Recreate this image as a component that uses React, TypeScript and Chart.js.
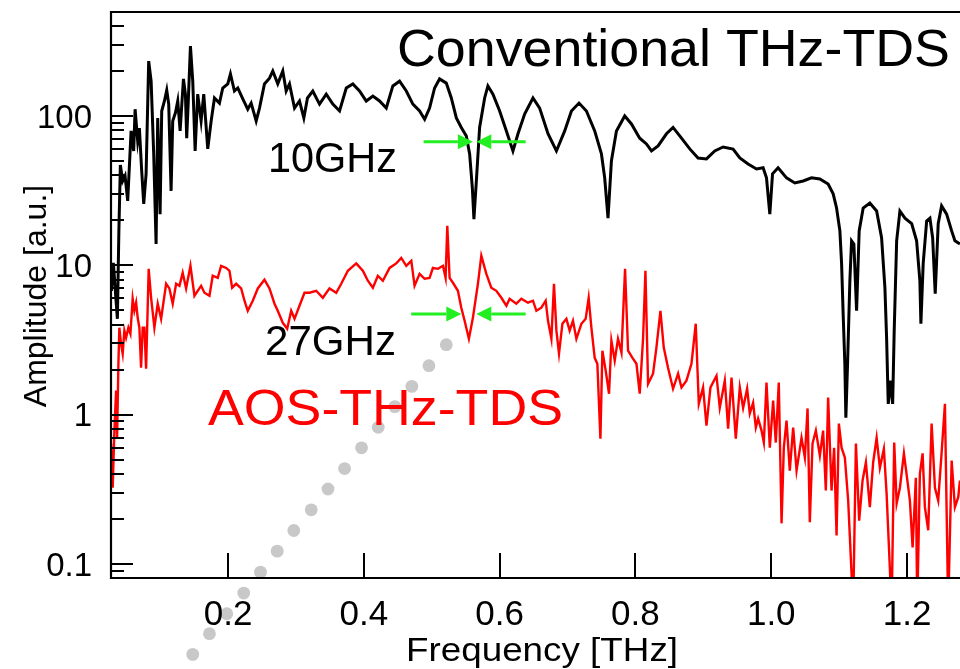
import React, { useEffect, useRef } from 'react';
import { Chart, registerables } from 'chart.js';

Chart.register(...registerables);

// ---------- Data (frequency in THz, amplitude in a.u.) ----------
const convFreq = [
  0.0282, 0.0311, 0.0340, 0.0370, 0.0392, 0.0414, 0.0448, 0.0483, 0.0522, 0.0572,
  0.0610, 0.0631, 0.0669, 0.0694, 0.0728, 0.0758, 0.0793, 0.0831, 0.0867, 0.0905,
  0.0940, 0.0964, 0.0999, 0.1023, 0.1063, 0.1097, 0.1126, 0.1161, 0.1185, 0.1225,
  0.1259, 0.1294, 0.1343, 0.1372, 0.1391, 0.1416, 0.1446, 0.1480, 0.1515, 0.1553,
  0.1603, 0.1642, 0.1701, 0.1751, 0.1800, 0.1873, 0.1922, 0.1996, 0.2035, 0.2094,
  0.2143, 0.2217, 0.2290, 0.2340, 0.2414, 0.2463, 0.2536, 0.2610, 0.2659, 0.2732,
  0.2806, 0.2856, 0.2905, 0.2979, 0.3052, 0.3116, 0.3170, 0.3248, 0.3347, 0.3446,
  0.3543, 0.3642, 0.3741, 0.3838, 0.3936, 0.4035, 0.4133, 0.4231, 0.4330, 0.4427,
  0.4526, 0.4625, 0.4722, 0.4821, 0.4895, 0.4968, 0.5042, 0.5115, 0.5214, 0.5288,
  0.5362, 0.5435, 0.5509, 0.5558, 0.5598, 0.5621, 0.5657, 0.5705, 0.5779, 0.5827,
  0.5901, 0.6000, 0.6099, 0.6196, 0.6270, 0.6368, 0.6491, 0.6589, 0.6712, 0.6836,
  0.6958, 0.7057, 0.7169, 0.7278, 0.7400, 0.7499, 0.7547, 0.7596, 0.7646, 0.7720,
  0.7842, 0.7941, 0.8063, 0.8162, 0.8236, 0.8333, 0.8457, 0.8554, 0.8678, 0.8800,
  0.8922, 0.9046, 0.9168, 0.9291, 0.9438, 0.9537, 0.9659, 0.9783, 0.9880, 0.9930,
  0.9979, 1.0019, 1.0101, 1.0225, 1.0347, 1.0470, 1.0593, 1.0716, 1.0838, 1.0912,
  1.0962, 1.1011, 1.1036, 1.1059, 1.1084, 1.1099, 1.1124, 1.1158, 1.1183, 1.1217,
  1.1257, 1.1295, 1.1354, 1.1452, 1.1552, 1.1625, 1.1674, 1.1699, 1.1723, 1.1758,
  1.1788, 1.1811, 1.1847, 1.1895, 1.1969, 1.2068, 1.2141, 1.2189, 1.2204, 1.2238,
  1.2289, 1.2337, 1.2377, 1.2415, 1.2459, 1.2509, 1.2583, 1.2657, 1.2705, 1.2779,
];
const convAmp = [
  6.75, 10.4, 6.75, 4.38, 17.0, 47.0, 36.7, 39.7, 27.0, 79.4,
  58.3, 111, 68.0, 83, 42.9, 25.8, 41, 233, 171, 55.7,
  13.9, 97, 22.0, 108, 126, 149, 120, 31.5, 92.6, 105,
  126, 79.4, 177, 140, 71, 132, 294, 171, 58.3, 140,
  92.6, 140, 60.2, 92.6, 132, 122, 154, 164, 191, 147,
  154, 130, 111, 122, 92.6, 113, 164, 179, 200, 164,
  200, 147, 164, 113, 126, 97, 132, 147, 120, 140,
  120, 108, 154, 164, 147, 126, 136, 126, 113, 159,
  171, 147, 120, 108, 95, 113, 154, 177, 166, 132,
  97, 83.8, 73.5, 55.7, 32.9, 20.4, 36.7, 83.8, 132, 159,
  140, 108, 79.4, 58.3, 76, 103, 132, 113, 76, 58.3,
  79.4, 108, 122, 108, 79.4, 55.7, 38.5, 20.7, 50, 79.4,
  100, 88.4, 71, 65, 58.3, 63, 76, 83.8, 71, 60.2,
  52.3, 51.6, 58.3, 62, 60, 52.3, 47.7, 44.2, 45, 38.5,
  22.0, 41, 45, 38.5, 35.6, 36.7, 38.5, 37.8, 35, 30.1,
  24.2, 17.0, 10.3, 4.74, 2.19, 0.955, 2.19, 7.88, 14.6, 13.9,
  4.96, 17.0, 24.2, 26.1, 23.1, 15.3, 7.08, 3.27, 1.18, 1.69,
  1.18, 3.65, 14.6, 23.1, 20.7, 19, 14.6, 7.88, 4.06, 10.3,
  19.8, 20.7, 15.3, 6.45, 19, 25, 22, 17, 14.6, 13.9,
];

const aosFreq = [
  0.0277, 0.0301, 0.0326, 0.0351, 0.0366, 0.0385, 0.0399, 0.0424, 0.0448, 0.0473,
  0.0498, 0.0532, 0.0562, 0.0595, 0.0620, 0.0646, 0.0669, 0.0694, 0.0719, 0.0743,
  0.0768, 0.0793, 0.0831, 0.0867, 0.0915, 0.0964, 0.1014, 0.1088, 0.1136, 0.1185,
  0.1235, 0.1284, 0.1332, 0.1382, 0.1446, 0.1505, 0.1553, 0.1603, 0.1652, 0.1726,
  0.1774, 0.1848, 0.1898, 0.1972, 0.2021, 0.2060, 0.2119, 0.2193, 0.2242, 0.2290,
  0.2364, 0.2438, 0.2536, 0.2610, 0.2684, 0.2732, 0.2806, 0.2871, 0.2930, 0.2979,
  0.3052, 0.3126, 0.3200, 0.3298, 0.3396, 0.3494, 0.3593, 0.3667, 0.3764, 0.3888,
  0.3985, 0.4059, 0.4133, 0.4206, 0.4280, 0.4379, 0.4477, 0.4551, 0.4625, 0.4699,
  0.4747, 0.4821, 0.4895, 0.4968, 0.5017, 0.5091, 0.5165, 0.5204, 0.5229, 0.5263,
  0.5312, 0.5385, 0.5435, 0.5484, 0.5547, 0.5606, 0.5680, 0.5730, 0.5804, 0.5877,
  0.5951, 0.6025, 0.6099, 0.6147, 0.6246, 0.6320, 0.6417, 0.6491, 0.6541, 0.6614,
  0.6678, 0.6712, 0.6762, 0.6800, 0.6836, 0.6874, 0.6924, 0.6983, 0.7031, 0.7080,
  0.7130, 0.7204, 0.7267, 0.7311, 0.7351, 0.7400, 0.7439, 0.7484, 0.7513, 0.7562,
  0.7611, 0.7646, 0.7695, 0.7743, 0.7794, 0.7847, 0.7891, 0.7956, 0.8015, 0.8063,
  0.8112, 0.8147, 0.8186, 0.8259, 0.8309, 0.8368, 0.8417, 0.8480, 0.8554, 0.8628,
  0.8678, 0.8751, 0.8825, 0.8888, 0.8933, 0.8996, 0.9046, 0.9105, 0.9194, 0.9242,
  0.9316, 0.9365, 0.9415, 0.9478,
  0.9537, 0.9586, 0.9645, 0.9684, 0.9733, 0.9773, 0.9807, 0.9857, 0.9891, 0.9930,
  0.9979, 1.0028, 1.0067, 1.0111, 1.0152, 1.0185, 1.0225, 1.0273, 1.0323, 1.0373,
  1.0446, 1.0495, 1.0535, 1.0568, 1.0608, 1.0657, 1.0716, 1.0764, 1.0804, 1.0838,
  1.0888, 1.0926, 1.0962, 1.0996, 1.1036, 1.1084, 1.1133, 1.1207, 1.1247, 1.1295,
  1.1345, 1.1394, 1.1452, 1.1501, 1.1552, 1.1600, 1.1659, 1.1699, 1.1773, 1.1811,
  1.1847, 1.1895, 1.1954, 1.1993, 1.2042, 1.2082, 1.2130, 1.2150, 1.2189, 1.2229,
  1.2263, 1.2312, 1.2362, 1.2411, 1.2459, 1.2509, 1.2558, 1.2606, 1.2657, 1.2705,
  1.2754, 1.2779,
];
const aosAmp = [
  0.64, 0.324, 0.782, 1.45, 0.70, 2.19, 3.82, 2.98, 2.56, 3.65,
  3.27, 3.82, 3.48, 5.97, 4.96, 5.62, 4.45, 3.82, 2.06, 3.82,
  3.82, 2.03, 9.47, 6.06, 3.82, 5.53, 4.38, 7.52, 7.0, 5.53,
  7.52, 7.29, 8.9, 7.0, 9.92, 6.25, 6.75, 7.29, 6.55, 6.25,
  8.51, 8.24, 9.92, 9.6, 9.19, 7.08, 7.52, 7.0, 5.79, 4.96,
  5.79, 7.0, 8.0, 7.0, 5.53, 4.96, 4.12, 3.76, 4.96, 4.38,
  5.36, 6.55, 6.55, 6.75, 6.06, 7.0, 6.55, 7.52, 9.19, 10.3,
  9.19, 7.88, 7.08, 8.51, 7.88, 9.6, 10.3, 11.2, 9.92, 10.7,
  7.29, 8.76, 8.12, 8.24, 9.6, 9.47, 9.92, 8.24, 18.4, 8.24,
  7.64, 6.75, 5.2, 4.25, 3.22, 4.45, 7.52, 11.6, 8.76, 7.08,
  6.75, 6.06, 5.36, 5.97, 5.53, 5.97, 5.62, 5.79, 4.96, 5.2,
  5.79, 4.25, 3.22, 7.52, 3.65, 2.56, 4.06, 4.38, 3.65, 4.25,
  3.22, 4.06, 4.38, 6.06, 3.82, 2.4, 2.19, 0.69, 2.68, 1.97,
  1.38, 3.13, 2.30, 3.22, 2.6, 9.47, 2.68, 2.4, 2.19, 1.38,
  3.22, 9.19, 1.61, 1.88, 2.81, 4.96, 2.81, 2.06, 1.49, 1.88,
  1.52, 1.69, 2.19, 4.06, 1.18, 1.52, 0.844, 1.52, 1.82, 1.11,
  1.69, 0.806, 1.77, 0.69,
  1.52, 1.11, 1.49, 1.02, 1.2, 0.82, 0.94, 0.782, 0.65, 1.64,
  0.60, 1.24, 0.65, 1.64, 0.187, 0.60, 0.912, 0.422, 0.82, 0.422,
  0.70, 0.516, 1.1, 0.19, 0.64, 0.782, 0.532, 0.782, 0.31, 1.3,
  0.31, 0.60, 0.155, 0.87, 0.60, 0.516, 0.266, 0.05, 0.64, 0.195,
  0.362, 0.478, 0.24, 0.478, 0.70, 0.44, 0.59, 0.296, 0.05, 0.65,
  0.254, 0.324, 0.55, 0.40, 0.266, 0.129, 0.378, 0.05, 0.40, 0.55,
  0.24, 0.168, 0.87, 0.324, 0.266, 0.555, 1.18, 0.05, 0.492, 0.24,
  0.28, 0.362,
];

// grey dotted guide (dots)
const guideFreq = [
  0.5214, 0.4958, 0.4707, 0.4457, 0.4212, 0.3966, 0.3716, 0.3472, 0.3225,
  0.2968, 0.2724, 0.2478, 0.2231, 0.1981, 0.1726, 0.1480, 0.1235,
];
const guideAmp = [
  2.939, 2.127, 1.546, 1.131, 0.8224, 0.599, 0.4353, 0.3175, 0.2304,
  0.1675, 0.1218, 0.0881, 0.0638, 0.0464, 0.0341, 0.0248, 0.01795,
];

// linewidth markers (green arrows)
const markLabels = ['10GHz', '27GHz'];
const markAmp = [67.3, 4.72];
const markLeftTail = [0.488, 0.4698];
const markLeftTip = [0.5606, 0.5435];
const markRightTip = [0.5656, 0.5656];
const markRightTail = [0.6383, 0.6383];

// axes
const xMin = 0.0276;
const xMax = 1.278;
const yMin = 0.0805;
const yMax = 497;
const xTicks = [0.2, 0.4, 0.6, 0.8, 1.0, 1.2];
const xTickLabels = ['0.2', '0.4', '0.6', '0.8', '1.0', '1.2'];
const yTicks = [0.1, 1, 10, 100];
const yTickLabels = ['0.1', '1', '10', '100'];

const FONT = '"Liberation Sans", Arial, Helvetica, sans-serif';

function drawFitText(
  ctx: CanvasRenderingContext2D,
  text: string,
  x: number,
  y: number,
  size: number,
  color: string,
  width?: number,
  align: CanvasTextAlign = 'left'
) {
  ctx.save();
  ctx.font = `${size}px ${FONT}`;
  ctx.fillStyle = color;
  ctx.textBaseline = 'alphabetic';
  ctx.textAlign = align;
  const w = ctx.measureText(text).width;
  const sx = width ? width / w : 1;
  ctx.translate(x, y);
  ctx.scale(sx, 1);
  ctx.fillText(text, 0, 0);
  ctx.restore();
}

function drawArrow(ctx: CanvasRenderingContext2D, x1: number, x2: number, y: number) {
  const dir = x2 > x1 ? 1 : -1;
  const headLen = 15;
  const headHalf = 7.5;
  ctx.beginPath();
  ctx.moveTo(x1, y);
  ctx.lineTo(x2 - dir * headLen, y);
  ctx.stroke();
  ctx.beginPath();
  ctx.moveTo(x2, y);
  ctx.lineTo(x2 - dir * headLen, y - headHalf);
  ctx.lineTo(x2 - dir * headLen, y + headHalf);
  ctx.closePath();
  ctx.fill();
}

const decorPlugin = {
  id: 'decor',
  afterDatasetsDraw(chart: any) {
    const { ctx, chartArea: a, scales } = chart;
    const xs = scales.x;
    const ys = scales.y;
    ctx.save();

    // grey guide dots
    ctx.fillStyle = '#c8c8c8';
    guideFreq.forEach((f, i) => {
      const px = xs.getPixelForValue(f);
      const py = ys.getPixelForValue(guideAmp[i]);
      ctx.beginPath();
      ctx.arc(px, py, 6.4, 0, Math.PI * 2);
      ctx.fill();
    });

    // green linewidth arrows
    ctx.strokeStyle = '#22ee22';
    ctx.fillStyle = '#22ee22';
    ctx.lineWidth = 3;
    markAmp.forEach((amp, i) => {
      const py = ys.getPixelForValue(amp);
      drawArrow(ctx, xs.getPixelForValue(markLeftTail[i]), xs.getPixelForValue(markLeftTip[i]), py);
      drawArrow(ctx, xs.getPixelForValue(markRightTail[i]), xs.getPixelForValue(markRightTip[i]), py);
    });

    // frame: left, bottom, top
    ctx.strokeStyle = '#000';
    ctx.lineWidth = 2.2;
    ctx.beginPath();
    ctx.moveTo(a.right, a.top);
    ctx.lineTo(a.left, a.top);
    ctx.lineTo(a.left, a.bottom);
    ctx.lineTo(a.right, a.bottom);
    ctx.stroke();

    // y ticks (inward)
    ctx.lineWidth = 2;
    ctx.beginPath();
    for (let k = -2; k <= 3; k++) {
      for (let m = 1; m <= 9; m++) {
        const v = m * Math.pow(10, k);
        if (v < yMin * 0.999 || v > yMax) continue;
        const py = Math.round(ys.getPixelForValue(v));
        const len = m === 1 ? 22 : 13;
        ctx.moveTo(a.left, py);
        ctx.lineTo(a.left + len, py);
      }
    }
    // x ticks (inward)
    xTicks.forEach((t) => {
      const px = Math.round(xs.getPixelForValue(t));
      ctx.moveTo(px, a.bottom);
      ctx.lineTo(px, a.bottom - 25);
    });
    ctx.stroke();

    // tick labels
    yTicks.forEach((t, i) => {
      const py = ys.getPixelForValue(t);
      drawFitText(ctx, yTickLabels[i], 92, py + 0.358 * 33, 33, '#000', undefined, 'right');
    });
    xTicks.forEach((t, i) => {
      const px = xs.getPixelForValue(t);
      drawFitText(ctx, xTickLabels[i], px, 625, 35, '#000', undefined, 'center');
    });

    // axis titles
    drawFitText(ctx, 'Frequency [THz]', 542, 661, 33, '#000', 272, 'center');
    ctx.save();
    ctx.translate(46, 296);
    ctx.rotate(-Math.PI / 2);
    ctx.font = `32px ${FONT}`;
    ctx.fillStyle = '#000';
    ctx.textAlign = 'center';
    ctx.textBaseline = 'alphabetic';
    ctx.fillText('Amplitude [a.u.]', 0, 0);
    ctx.restore();

    // annotations
    drawFitText(ctx, 'Conventional THz-TDS', 397, 66, 52, '#000', 553);
    drawFitText(ctx, markLabels[0], 268, 171.5, 42, '#000', 129);
    drawFitText(ctx, markLabels[1], 265, 355, 42, '#000', 131);
    drawFitText(ctx, 'AOS-THz-TDS', 208, 425, 50, '#ff0000', 355);

    ctx.restore();
  },
};

export default function App() {
  const canvasRef = useRef<HTMLCanvasElement | null>(null);

  useEffect(() => {
    const canvas = canvasRef.current;
    if (!canvas) return;
    const chart = new Chart(canvas, {
      type: 'line',
      data: {
        datasets: [
          {
            label: 'AOS-THz-TDS',
            data: aosFreq.map((f, i) => ({ x: f, y: aosAmp[i] })),
            borderColor: '#ff0000',
            borderWidth: 2.4,
            pointRadius: 0,
            tension: 0,
            fill: false,
          },
          {
            label: 'Conventional THz-TDS',
            data: convFreq.map((f, i) => ({ x: f, y: convAmp[i] })),
            borderColor: '#000000',
            borderWidth: 3,
            pointRadius: 0,
            tension: 0,
            fill: false,
          },
        ],
      },
      options: {
        animation: false,
        responsive: false,
        maintainAspectRatio: false,
        devicePixelRatio: 1,
        events: [],
        layout: { padding: { left: 111, top: 12, right: 0, bottom: 91 } },
        plugins: { legend: { display: false }, tooltip: { enabled: false }, title: { display: false } },
        scales: {
          x: { type: 'linear', min: xMin, max: xMax, display: false },
          y: { type: 'logarithmic', min: yMin, max: yMax, display: false },
        },
      },
      plugins: [decorPlugin],
    } as any);
    return () => chart.destroy();
  }, []);

  return (
    <div style={{ position: 'fixed', left: 0, top: 0, width: 960, height: 669, background: '#fff' }}>
      <canvas ref={canvasRef} width={960} height={669} style={{ width: 960, height: 669, display: 'block' }} />
    </div>
  );
}
